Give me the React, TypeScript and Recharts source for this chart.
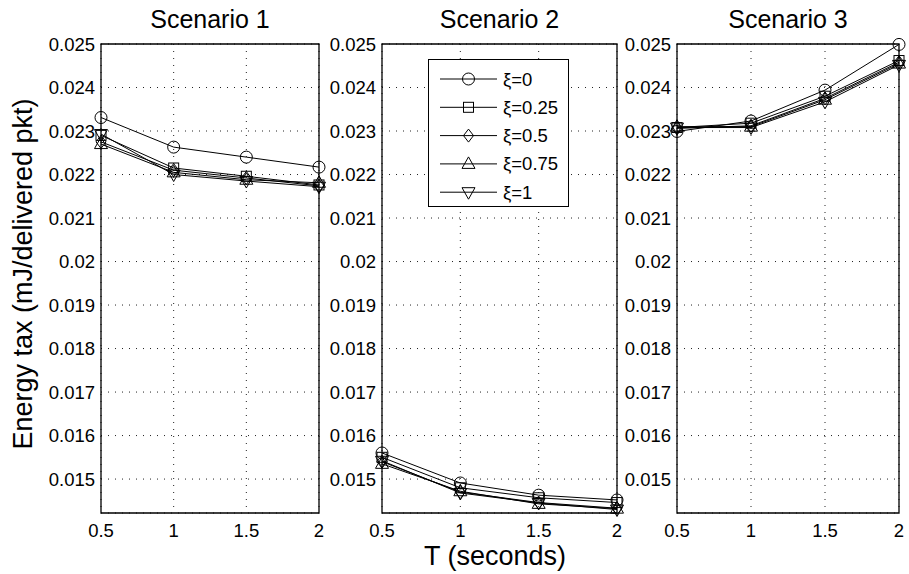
import React from 'react';
import { LineChart, Line, XAxis, YAxis, CartesianGrid, ReferenceArea, Legend } from 'recharts';

const T_VALUES = [0.5, 1, 1.5, 2];
const X_TICKS = [0.5, 1, 1.5, 2];
const Y_TICKS = [0.015, 0.016, 0.017, 0.018, 0.019, 0.02, 0.021, 0.022, 0.023, 0.024, 0.025];
const Y_DOMAIN = [0.01422, 0.025];
const XI_LABELS = ['ξ=0', 'ξ=0.25', 'ξ=0.5', 'ξ=0.75', 'ξ=1'];
const MARKERS = ['circle', 'square', 'diamond', 'triangleUp', 'triangleDown'];
const SCENARIO_TITLES = ['Scenario 1', 'Scenario 2', 'Scenario 3'];

// one row per xi, one value per T
const scenario1 = [
  [0.02331, 0.02263, 0.0224, 0.02217],
  [0.0229, 0.02215, 0.02196, 0.02176],
  [0.02275, 0.0221, 0.02192, 0.02174],
  [0.0227, 0.02205, 0.02188, 0.02181],
  [0.02293, 0.022, 0.02185, 0.02172],
];
const scenario2 = [
  [0.0156, 0.01491, 0.01463, 0.01452],
  [0.0155, 0.0148, 0.01457, 0.01446],
  [0.0154, 0.0147, 0.01446, 0.01433],
  [0.01535, 0.01472, 0.01443, 0.01432],
  [0.01542, 0.01468, 0.01445, 0.0143],
];
const scenario3 = [
  [0.02299, 0.02323, 0.02394, 0.02499],
  [0.02308, 0.02318, 0.0238, 0.02462],
  [0.02306, 0.02312, 0.02375, 0.02458],
  [0.0231, 0.0231, 0.02372, 0.02455],
  [0.02308, 0.02308, 0.02367, 0.02452],
];

// plot-area left edge and width for each panel (px)
const PANELS = [
  { data: scenario1, left: 101, width: 218 },
  { data: scenario2, left: 382, width: 235 },
  { data: scenario3, left: 677, width: 222 },
];

const FONT = '"Liberation Sans", Arial, Helvetica, sans-serif';
const Y_AXIS_W = 70;
const TICK_FS = 18.5;

const toRows = (series: number[][]) =>
  T_VALUES.map((t, i) => {
    const row: Record<string, number> = { T: t };
    series.forEach((s, k) => (row[`s${k}`] = s[i]));
    return row;
  });

const MarkerShape = ({ cx, cy, kind }: { cx: number; cy: number; kind: string }) => {
  const p = { fill: 'none', stroke: '#000', strokeWidth: 1 };
  switch (kind) {
    case 'circle':
      return <circle cx={cx} cy={cy} r={6} {...p} />;
    case 'square':
      return <rect x={cx - 5} y={cy - 5} width={10} height={10} {...p} />;
    case 'diamond':
      return <polygon points={`${cx},${cy - 6.5} ${cx + 5},${cy} ${cx},${cy + 6.5} ${cx - 5},${cy}`} {...p} />;
    case 'triangleUp':
      return <polygon points={`${cx},${cy - 7} ${cx + 6.5},${cy + 4.5} ${cx - 6.5},${cy + 4.5}`} {...p} />;
    default:
      return <polygon points={`${cx},${cy + 7} ${cx + 6.5},${cy - 4.5} ${cx - 6.5},${cy - 4.5}`} {...p} />;
  }
};

const dotFor = (kind: string) => (props: any) => (
  <g key={`${kind}-${props.index}`}>
    <MarkerShape cx={props.cx} cy={props.cy} kind={kind} />
  </g>
);

const LegendBox = () => (
  <div style={{ width: 141, height: 148, border: '1.2px solid #000', background: '#fff', boxSizing: 'border-box' }}>
    <svg width={139} height={146}>
      {XI_LABELS.map((label, k) => {
        const y = 19 + k * 28.3;
        return (
          <g key={label}>
            <line x1={11} x2={68} y1={y} y2={y} stroke="#000" strokeWidth={1} />
            <MarkerShape cx={39.5} cy={y} kind={MARKERS[k]} />
            <text x={74} y={y} dominantBaseline="central" fontSize={TICK_FS} fontFamily={FONT} fill="#000">
              {label}
            </text>
          </g>
        );
      })}
    </svg>
  </div>
);

const fmt = (v: number) => String(Number(v.toFixed(3)));

const Panel = ({ series, left, width, showLegend }: { series: number[][]; left: number; width: number; showLegend: boolean }) => (
  <div style={{ position: 'absolute', left: left - Y_AXIS_W, top: 0 }}>
    <LineChart width={width + Y_AXIS_W + 10} height={574} data={toRows(series)} margin={{ top: 44, right: 10, bottom: 21, left: 0 }}>
      <CartesianGrid stroke="#222" strokeDasharray="1 6" />
      <XAxis
        dataKey="T"
        type="number"
        domain={[0.5, 2]}
        ticks={X_TICKS}
        interval={0}
        axisLine={false}
        tickLine={false}
        tickSize={6}
        tickMargin={5}
        height={40}
        tick={{ fill: '#000', fontSize: TICK_FS, fontFamily: FONT }}
      />
      <YAxis
        type="number"
        domain={Y_DOMAIN}
        ticks={Y_TICKS}
        interval={0}
        axisLine={false}
        tickLine={false}
        tickSize={6}
        tickMargin={0}
        width={Y_AXIS_W}
        tickFormatter={fmt}
        tick={{ fill: '#000', fontSize: TICK_FS, fontFamily: FONT }}
      />
      <ReferenceArea x1={0.5} x2={2} y1={Y_DOMAIN[0]} y2={Y_DOMAIN[1]} fill="none" stroke="#000" strokeWidth={1.3} />
      {XI_LABELS.map((name, k) => (
        <Line
          key={name}
          dataKey={`s${k}`}
          name={name}
          stroke="#000"
          strokeWidth={1}
          dot={dotFor(MARKERS[k])}
          activeDot={false}
          isAnimationActive={false}
        />
      ))}
      {showLegend && (
        <Legend
          layout="vertical"
          align="center"
          verticalAlign="middle"
          content={() => <LegendBox />}
          wrapperStyle={{ left: 428 - (left - Y_AXIS_W), top: 59, width: 141, height: 148 }}
        />
      )}
    </LineChart>
  </div>
);

export default function App() {
  return (
    <div style={{ position: 'absolute', left: 0, top: 0, width: 909, height: 574, background: '#fff', fontFamily: FONT, color: '#000' }}>
      {PANELS.map((p, i) => (
        <div
          key={SCENARIO_TITLES[i]}
          style={{ position: 'absolute', left: p.left, top: 5, width: p.width, height: 28, lineHeight: '28px', fontSize: 25, textAlign: 'center', whiteSpace: 'nowrap' }}
        >
          {SCENARIO_TITLES[i]}
        </div>
      ))}
      {PANELS.map((p, i) => (
        <Panel key={i} series={p.data} left={p.left} width={p.width} showLegend={i === 1} />
      ))}
      <div style={{ position: 'absolute', left: 295, top: 541, width: 400, height: 30, lineHeight: '30px', fontSize: 27, textAlign: 'center' }}>
        T (seconds)
      </div>
      <div
        style={{
          position: 'absolute',
          left: 23 - 200,
          top: 274 - 16,
          width: 400,
          height: 32,
          lineHeight: '32px',
          fontSize: 27,
          textAlign: 'center',
          transform: 'rotate(-90deg)',
          whiteSpace: 'nowrap',
        }}
      >
        Energy tax (mJ/delivered pkt)
      </div>
    </div>
  );
}
